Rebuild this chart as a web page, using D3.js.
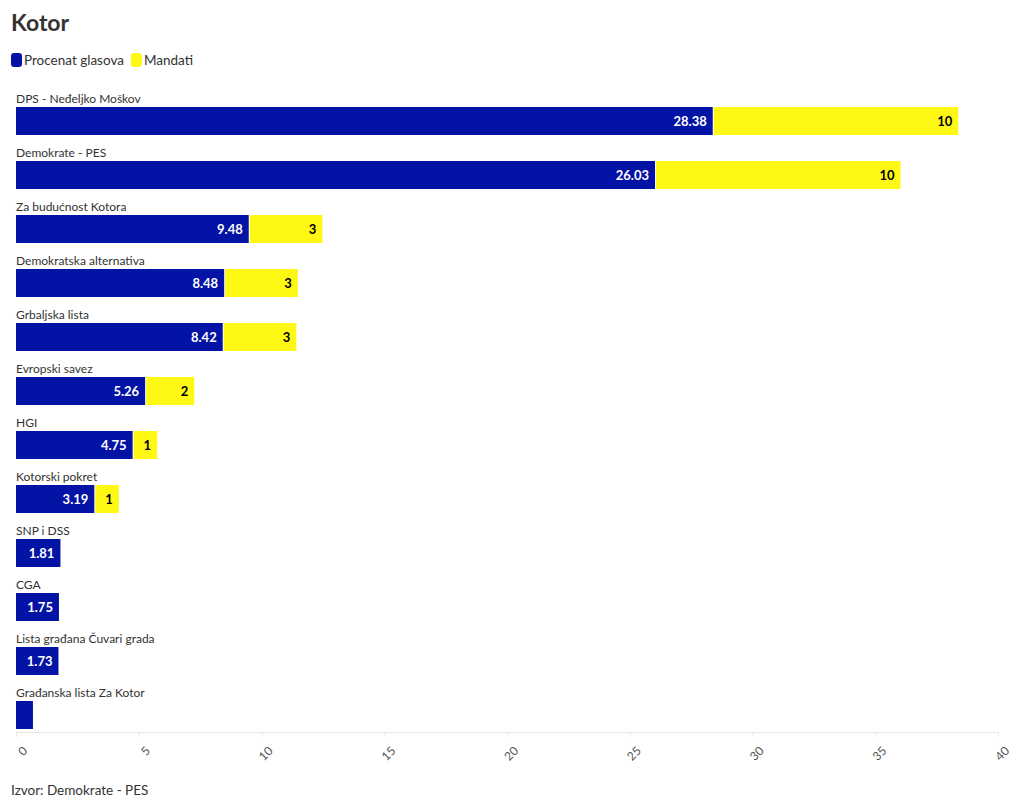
<!DOCTYPE html>
<html><head><meta charset="utf-8">
<script src="https://cdn.jsdelivr.net/npm/d3@7"></script>
<style>
body{margin:0;background:#fff;font-family:"Source Sans Pro",Lato,"Open Sans",sans-serif;}
</style></head>
<body><svg id="c" width="1020" height="809"></svg>
<script>
const categories = ["DPS - Neđeljko Moškov","Demokrate - PES","Za budućnost Kotora","Demokratska alternativa","Grbaljska lista","Evropski savez","HGI","Kotorski pokret","SNP i DSS","CGA","Lista građana Čuvari grada","Građanska lista Za Kotor"];
const glasova = [28.38,26.03,9.48,8.48,8.42,5.26,4.75,3.19,1.81,1.75,1.73,0.69];
const mandati = [10,10,3,3,3,2,1,1,0,0,0,0];
const xTicks = [0,5,10,15,20,25,30,35,40];
const seriesNames = ["Procenat glasova","Mandati"];
const colors = ["#0313a5","#fff714"];

const svg = d3.select("#c");
const x = d3.scaleLinear().domain([0,40]).range([16,998]);
const y = d3.scaleBand().domain(categories).range([89,737]).paddingInner(0).paddingOuter(0);
const barTop = 18, barH = 28;

svg.append("text").attr("x",11).attr("y",31).attr("font-size",23).attr("font-weight",700).attr("fill","#333").text("Kotor");

// legend
let lx = 11;
seriesNames.forEach((n,i)=>{
  svg.append("rect").attr("x",lx).attr("y",53).attr("width",11).attr("height",14).attr("rx",3).attr("fill",colors[i]);
  const t = svg.append("text").attr("x",lx+13).attr("y",65).attr("font-size",13.5).attr("fill","#333").text(n);
  lx += 13 + t.node().getComputedTextLength() + 7;
});

// axis
const ax = svg.append("g").attr("transform","translate(0,732)")
  .call(d3.axisBottom(x).tickValues(xTicks).tickSize(5).tickFormat(d3.format("d")));
ax.select(".domain").attr("stroke","#e6e6e6");
ax.selectAll(".tick line").attr("stroke","#e6e6e6");
ax.selectAll(".tick text").attr("font-size",12).attr("fill","#555")
  .attr("font-family","Lato, sans-serif")
  .attr("text-anchor","end").attr("dy","0.35em")
  .attr("transform","translate(3,11) rotate(-45)");

const rows = svg.append("g").selectAll("g").data(categories).join("g")
  .attr("transform",d=>`translate(0,${y(d)})`);
rows.append("text").attr("x",16).attr("y",14).attr("font-size",12).attr("fill","#333").text(d=>d);
rows.append("rect").attr("x",x(0)).attr("y",barTop).attr("height",barH)
  .attr("width",(d,i)=>x(glasova[i])-x(0)).attr("fill",colors[0]);
rows.filter((d,i)=>mandati[i]>0).append("rect")
  .attr("x",(d)=>x(glasova[categories.indexOf(d)])+1).attr("y",barTop).attr("height",barH)
  .attr("width",d=>{const i=categories.indexOf(d);return x(glasova[i]+mandati[i])-x(glasova[i])-1;})
  .attr("fill",colors[1]);
rows.filter((d,i)=>glasova[i]>1).append("text")
  .attr("x",d=>x(glasova[categories.indexOf(d)])-6).attr("y",barTop+barH/2).attr("dy","0.35em")
  .attr("text-anchor","end").attr("font-size",13).attr("font-weight",700).attr("fill","#fff")
  .text(d=>glasova[categories.indexOf(d)].toFixed(2));
rows.filter((d,i)=>mandati[i]>0).append("text")
  .attr("x",d=>{const i=categories.indexOf(d);return x(glasova[i]+mandati[i])-6;}).attr("y",barTop+barH/2).attr("dy","0.35em")
  .attr("text-anchor","end").attr("font-size",13).attr("font-weight",700).attr("fill","#000")
  .text(d=>mandati[categories.indexOf(d)]);

svg.append("text").attr("x",11).attr("y",795).attr("font-size",13.5).attr("fill","#333").text("Izvor: Demokrate - PES");
</script></body></html>
